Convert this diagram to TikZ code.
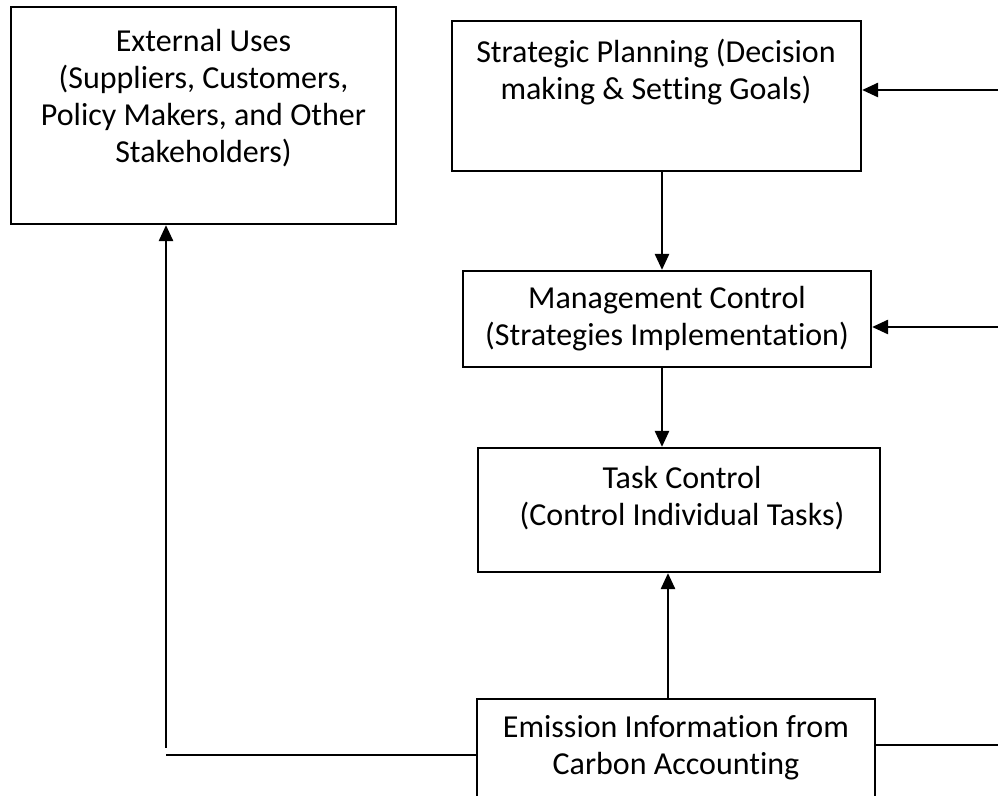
\documentclass[tikz,border=0pt]{standalone}
\usepackage{fontspec}
\setmainfont[RawFeature={-liga}]{Carlito}
\usetikzlibrary{arrows.meta}
\begin{document}
\begin{tikzpicture}[x=0.5pt,y=-0.5pt,
  box/.style={draw, line width=1.1pt, rectangle, inner sep=0pt},
  txt/.style={align=center, inner sep=0pt, font=\fontsize{16}{18.5}\selectfont},
  conn/.style={line width=1.3pt},
  arr/.style={conn, -{Triangle[length=8pt,width=7pt]}}]
  \clip (0,0) rectangle (998,796);

  % boxes
  \node[box, minimum width=192.5pt, minimum height=108.5pt] (ext)   at (203.5,115.5) {};
  \node[box, minimum width=204.5pt, minimum height=75pt]    (strat) at (656.5,96) {};
  \node[box, minimum width=204pt,   minimum height=48pt]    (mgmt)  at (667,319) {};
  \node[box, minimum width=201pt,   minimum height=62pt]    (task)  at (679,510) {};
  \node[box, minimum width=199pt,   minimum height=65.5pt]  (emis)  at (676,764.5) {};

  % labels
  \node[txt] (extT)   at (203.5,98) {External Uses\\(Suppliers, Customers,\\Policy Makers, and Other\\Stakeholders)};
  \node[txt] (stratT) at (656,72)   {Strategic Planning (Decision\\making \& Setting Goals)};
  \node[txt] (mgmtT)  at (667,319)  {Management Control\\(Strategies Implementation)};
  \node[txt] (taskT)  at (682,498)  {Task Control\\(Control Individual Tasks)};
  \node[txt] (emisT)  at (676,748)  {Emission Information from\\Carbon Accounting};

  % helper coordinates
  \coordinate (r1) at (998,90);
  \coordinate (r2) at (998,327);
  \coordinate (r3) at (998,745);
  \coordinate (ax) at (662,0);
  \coordinate (bx) at (668,0);
  \coordinate (lc) at (166,755);
  \coordinate (lt) at (166,748);

  % vertical flow
  \draw[arr] (strat.south -| ax) -- (mgmt.north -| ax);
  \draw[arr] (mgmt.south -| ax) -- (task.north -| ax);
  \draw[arr] (emis.north -| bx) -- (task.south -| bx);

  % feedback from the right
  \draw[arr] (r1) -- (r1 -| strat.east);
  \draw[arr] (r2) -- (r2 -| mgmt.east);
  \draw[conn] (r3 -| emis.east) -- (r3);

  % external reporting
  \draw[conn] (lc -| emis.west) -- (lc);
  \draw[arr] (lt) -- (lt |- ext.south);
\end{tikzpicture}
\end{document}
